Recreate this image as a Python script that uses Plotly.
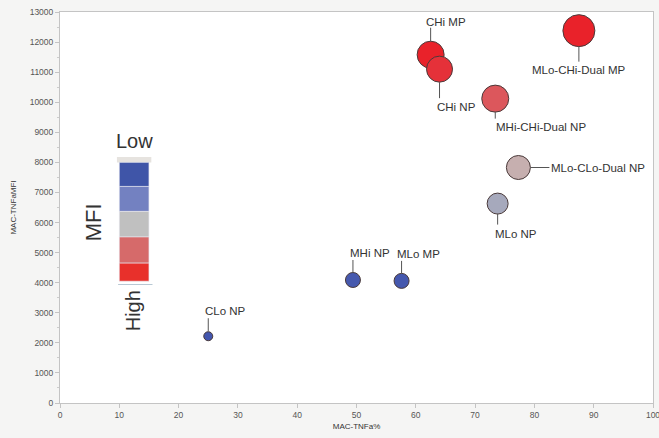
import plotly.graph_objects as go

# ---- data ----
names = ["CLo NP", "MHi NP", "MLo MP", "MLo NP", "MLo-CLo-Dual NP",
         "MHi-CHi-Dual NP", "CHi MP", "CHi NP", "MLo-CHi-Dual MP"]
tnfa_pct = [25.0, 49.4, 57.6, 73.8, 77.3, 73.4, 62.5, 64.0, 87.5]
tnfa_mfi = [2220, 4090, 4060, 6630, 7830, 10120, 11580, 11100, 12380]
bubble_size = [9, 15, 15, 21, 24, 27, 27, 26, 32]

# MFI colour key (top = Low, bottom = High)
key_colors = ["#3f55a8", "#7381c1", "#c0c0c0", "#d66a6a", "#e8302b"]
key_bounds = [8000, 7200, 6370, 5520, 4650, 4050]

# label placement (screen px relative to bubble centre, y downward)
# (line x0, y0, x1, y1, text dx, text dy, xanchor)
label_layout = {
    "CLo NP": (0, -5, 0, -18, -5, -25, "left"),
    "MHi NP": (0, -7, 0, -20, -5, -27, "left"),
    "MLo MP": (0, -7, 0, -20, -7, -27, "left"),
    "MLo NP": (0, 10, 0, 21, -5, 30, "left"),
    "MLo-CLo-Dual NP": (12, 0, 31, 0, 31, 0, "left"),
    "MHi-CHi-Dual NP": (0, 13, 0, 20, -1, 28, "left"),
    "CHi MP": (0, -13, 0, -27, -7, -33, "left"),
    "CHi NP": (0, 13, 0, 29, -5, 38, "left"),
    "MLo-CHi-Dual MP": (0, 16, 0, 31, 0, 39, "center"),
}

FONT = "Liberation Sans, Arial, sans-serif"

fig = go.Figure()
fig.add_trace(go.Scatter(
    x=tnfa_pct, y=tnfa_mfi, mode="markers", text=names,
    marker=dict(size=bubble_size, sizemode="diameter",
                color=tnfa_mfi, cmin=4000, cmax=11500,
                colorscale=[[0, "#4356ae"], [0.45, "#c2c0c0"], [1, "#e9222a"]],
                line=dict(color="#4a3a3a", width=1), opacity=1),
    showlegend=False, hoverinfo="text"))

shapes = []
annotations = []
for n, x, y in zip(names, tnfa_pct, tnfa_mfi):
    lx0, ly0, lx1, ly1, tdx, tdy, xa = label_layout[n]
    shapes.append(dict(type="line", xref="x", yref="y",
                       xsizemode="pixel", ysizemode="pixel",
                       xanchor=x, yanchor=y,
                       x0=lx0, x1=lx1, y0=-ly0, y1=-ly1,
                       line=dict(color="#555555", width=1)))
    annotations.append(dict(x=x, y=y, xref="x", yref="y", text=n,
                            showarrow=False, xanchor=xa, yanchor="middle",
                            xshift=tdx, yshift=-tdy,
                            font=dict(family=FONT, size=11.5, color="#333333")))

# colour key
shapes.append(dict(type="rect", xref="x", yref="y", x0=9.6, x1=15.4,
                   y0=key_bounds[0], y1=key_bounds[0] + 180,
                   fillcolor="#e6e3df", line=dict(width=0), layer="above"))
for i, c in enumerate(key_colors):
    shapes.append(dict(type="rect", xref="x", yref="y", x0=10, x1=15,
                       y0=key_bounds[i + 1], y1=key_bounds[i],
                       fillcolor=c, line=dict(color="#e8e8f0", width=0.6),
                       layer="above"))
shapes.append(dict(type="line", xref="x", yref="y", x0=9.8, x1=15.6,
                   y0=key_bounds[-1] - 110, y1=key_bounds[-1] - 110,
                   line=dict(color="#b8c8d4", width=1)))

annotations += [
    dict(x=12.5, y=8700, xref="x", yref="y", text="Low", showarrow=False,
         font=dict(family=FONT, size=20, color="#333333"), xanchor="center",
         yanchor="middle"),
    dict(x=5.7, y=6000, xref="x", yref="y", text="MFI", showarrow=False,
         textangle=-90, font=dict(family=FONT, size=22, color="#333333"),
         xanchor="center", yanchor="middle"),
    dict(x=12.3, y=3080, xref="x", yref="y", text="High", showarrow=False,
         textangle=-90, font=dict(family=FONT, size=20, color="#333333"),
         xanchor="center", yanchor="middle"),
]

fig.update_layout(
    width=659, height=438,
    margin=dict(l=60, r=6, t=12, b=35, autoexpand=False),
    paper_bgcolor="#f5f5f4", plot_bgcolor="#ffffff",
    shapes=shapes, annotations=annotations,
    font=dict(family=FONT, color="#555555"),
)
fig.update_xaxes(range=[0, 100], dtick=10, showgrid=False, zeroline=False,
                 automargin=False, ticklabeloverflow="allow",
                 showline=True, linecolor="#c4c4c4", linewidth=1, mirror=True,
                 ticks="outside", ticklen=4, tickcolor="#c4c4c4",
                 tickfont=dict(size=8.5, color="#555555"),
                 title=dict(text="MAC-TNFa%", font=dict(size=8, color="#333333"),
                            standoff=4))
fig.update_yaxes(range=[0, 13000], dtick=1000, tickformat="d",
                 showgrid=False, zeroline=False,
                 automargin=False, ticklabeloverflow="allow",
                 showline=True, linecolor="#c4c4c4", linewidth=1, mirror=True,
                 ticks="outside", ticklen=4, tickcolor="#c4c4c4",
                 minor=dict(dtick=500, ticks="outside", ticklen=2,
                            tickcolor="#cccccc"),
                 tickfont=dict(size=8.5, color="#555555"),
                 title=dict(text="MAC-TNFaMFI", font=dict(size=8, color="#333333"),
                            standoff=11))

fig.write_html("out.html",
               config={"displayModeBar": False},
               post_script="document.body.style.margin='0';"
                           "document.body.style.overflow='hidden';")
